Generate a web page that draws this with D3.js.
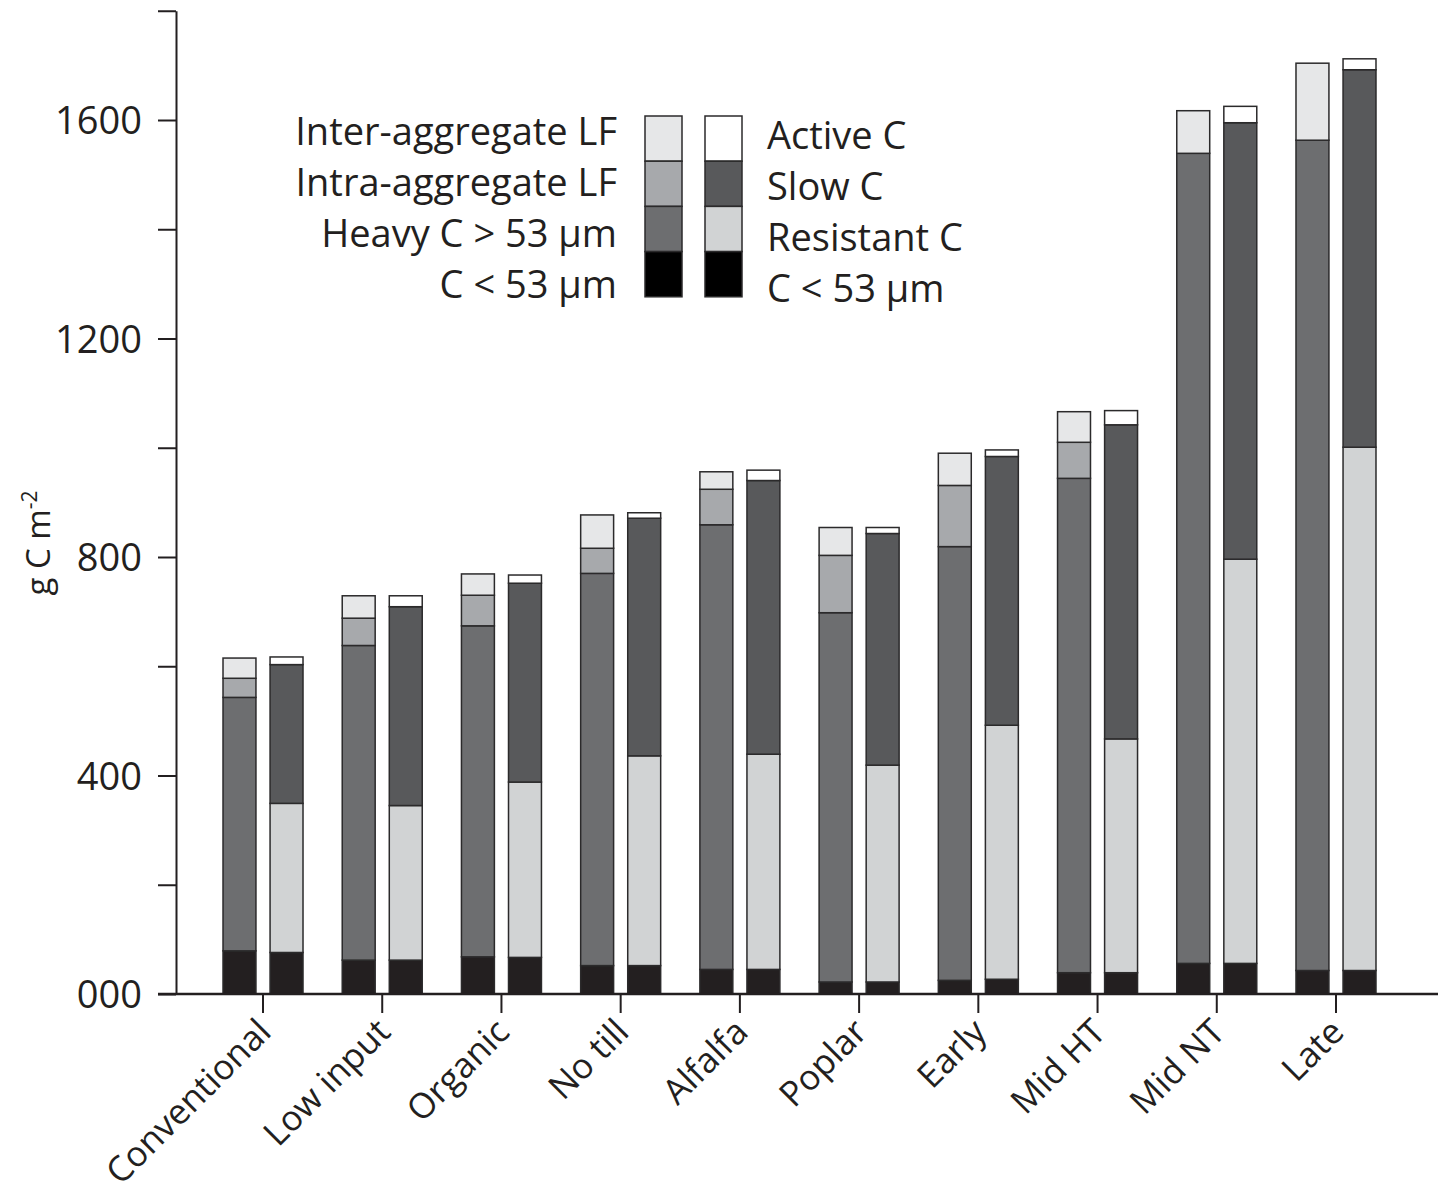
<!DOCTYPE html>
<html>
<head>
<meta charset="utf-8">
<script src="https://cdn.jsdelivr.net/npm/d3@7"></script>
<style>
  body { margin: 0; background: #fff; }
  svg text { font-family: "Open Sans", "Noto Sans", sans-serif; fill: #231f20; }
</style>
</head>
<body>
<div id="chart"></div>
<script>
// Data (g C m-2)
var categories = ["Conventional", "Low input", "Organic", "No till", "Alfalfa",
                  "Poplar", "Early", "Mid HT", "Mid NT", "Late"];

// Left bar of each pair: measured fractions
var fracFine  = [79, 62, 68, 52, 45, 22, 25, 39, 56, 43];
var fracHeavy = [464, 576, 606, 718, 814, 676, 794, 905, 1483, 1520];
var fracIntra = [35, 50, 56, 46, 65, 105, 112, 66, 0, 0];
var fracInter = [37, 41, 39, 61, 32, 51, 59, 56, 78, 141];

// Right bar of each pair: modelled pools
var poolFine      = [76, 62, 67, 52, 45, 22, 27, 39, 56, 43];
var poolResistant = [273, 283, 321, 384, 394, 397, 465, 428, 740, 958];
var poolSlow      = [254, 364, 364, 435, 501, 424, 492, 575, 799, 691];
var poolActive    = [14, 20, 15, 10, 19, 11, 12, 26, 30, 20];

var fracKeys = ["fine", "heavy", "intra", "inter"];
var poolKeys = ["fine", "resistant", "slow", "active"];
var fracNames = ["C < 53 \u00b5m", "Heavy C > 53 \u00b5m", "Intra-aggregate LF", "Inter-aggregate LF"];
var poolNames = ["C < 53 \u00b5m", "Resistant C", "Slow C", "Active C"];

var yTickValues = [0, 200, 400, 600, 800, 1000, 1200, 1400, 1600, 1800];
var yTickLabels = {0: "000", 400: "400", 800: "800", 1200: "1200", 1600: "1600"};

var colors = {
    fine: "#231f20",
    heavy: "#6d6e70",
    intra: "#a7a9ac",
    inter: "#e6e7e8",
    resistant: "#d1d3d4",
    slow: "#58595b",
    active: "#ffffff"
};

// build row tables for d3.stack
var fracRows = categories.map(function(c, i) {
    return {cat: c, fine: fracFine[i], heavy: fracHeavy[i], intra: fracIntra[i], inter: fracInter[i]};
});
var poolRows = categories.map(function(c, i) {
    return {cat: c, fine: poolFine[i], resistant: poolResistant[i], slow: poolSlow[i], active: poolActive[i]};
});

var width = 1439, height = 1198;
var axisX = 176, axisY = 994;

var svg = d3.select("#chart").append("svg")
    .attr("width", width)
    .attr("height", height);

var y = d3.scaleLinear().domain([0, 1800]).range([axisY, 10.75]);
var x = d3.scaleBand().domain(categories).range([203.4, 1395.6]).padding(0);
var inner = d3.scaleBand().domain(["frac", "pool"]).range([-40, 40]).paddingInner(0.3);

function drawStack(rows, keys, which) {
    var series = d3.stack().keys(keys)(rows);
    var g = svg.append("g").attr("class", which);
    series.forEach(function(s) {
        g.selectAll(null)
            .data(s.filter(function(d) { return d[1] > d[0]; }))
            .enter().append("rect")
            .attr("x", function(d) { return x(d.data.cat) + x.bandwidth() / 2 + inner(which); })
            .attr("width", inner.bandwidth())
            .attr("y", function(d) { return y(d[1]); })
            .attr("height", function(d) { return y(d[0]) - y(d[1]); })
            .attr("fill", colors[s.key])
            .attr("stroke", "#2b2a2b")
            .attr("stroke-width", 1.5);
    });
}

drawStack(fracRows, fracKeys, "frac");
drawStack(poolRows, poolKeys, "pool");

// Y axis
var yAxis = d3.axisLeft(y)
    .tickValues(yTickValues)
    .tickSize(18)
    .tickSizeOuter(0)
    .tickPadding(16)
    .tickFormat(function(d) { return yTickLabels[d] || ""; });

var yg = svg.append("g")
    .attr("transform", "translate(" + axisX + ",0)")
    .call(yAxis);
yg.select(".domain").attr("stroke", "#231f20").attr("stroke-width", 2);
yg.selectAll(".tick line").attr("stroke", "#231f20").attr("stroke-width", 2);
yg.selectAll(".tick text")
    .attr("font-size", 38)
    .attr("dy", "0.36em");

// X axis: line across, ticks at the centre of each pair
var xAxis = d3.axisBottom(x).tickSize(19).tickSizeOuter(0).tickFormat("");
var xg = svg.append("g")
    .attr("transform", "translate(0," + axisY + ")")
    .call(xAxis);
xg.select(".domain").remove();
xg.selectAll(".tick line").attr("stroke", "#231f20").attr("stroke-width", 2);
svg.append("line")
    .attr("x1", axisX - 18).attr("x2", 1438)
    .attr("y1", axisY).attr("y2", axisY)
    .attr("stroke", "#231f20").attr("stroke-width", 2.5);

// rotated category labels
svg.selectAll(".catlabel")
    .data(categories)
    .enter().append("text")
    .attr("class", "catlabel")
    .attr("text-anchor", "end")
    .attr("font-size", 35)
    .attr("transform", function(d) {
        return "translate(" + (x(d) + x.bandwidth() / 2 + 10) + "," + (axisY + 40) + ") rotate(-45)";
    })
    .text(function(d) { return d; });

// Y axis title
var ytitle = svg.append("text")
    .attr("text-anchor", "middle")
    .attr("font-size", 33)
    .attr("transform", "translate(50,543) rotate(-90)");
ytitle.append("tspan").text("g C m");
ytitle.append("tspan").attr("font-size", 21).attr("dy", -13).text("-2");

// Legend
var legendTop = 116, boxH = 45.2, boxW = 37;
var legend = svg.append("g").attr("class", "legend");
var legendCols = [
    {keys: fracKeys, names: fracNames, x: 645, textX: 617, anchor: "end", base: 29},
    {keys: poolKeys, names: poolNames, x: 705, textX: 767, anchor: "start", base: 33}
];
legendCols.forEach(function(col) {
    var order = col.keys.slice().reverse();
    var names = col.names.slice().reverse();
    order.forEach(function(k, i) {
        legend.append("rect")
            .attr("x", col.x)
            .attr("y", legendTop + i * boxH)
            .attr("width", boxW)
            .attr("height", boxH)
            .attr("fill", k === "fine" ? "#000" : colors[k])
            .attr("stroke", "#2b2a2b")
            .attr("stroke-width", 1.5);
        legend.append("text")
            .attr("x", col.textX)
            .attr("y", legendTop + col.base + i * 51)
            .attr("text-anchor", col.anchor)
            .attr("font-size", 38)
            .text(names[i]);
    });
});
</script>
</body>
</html>
